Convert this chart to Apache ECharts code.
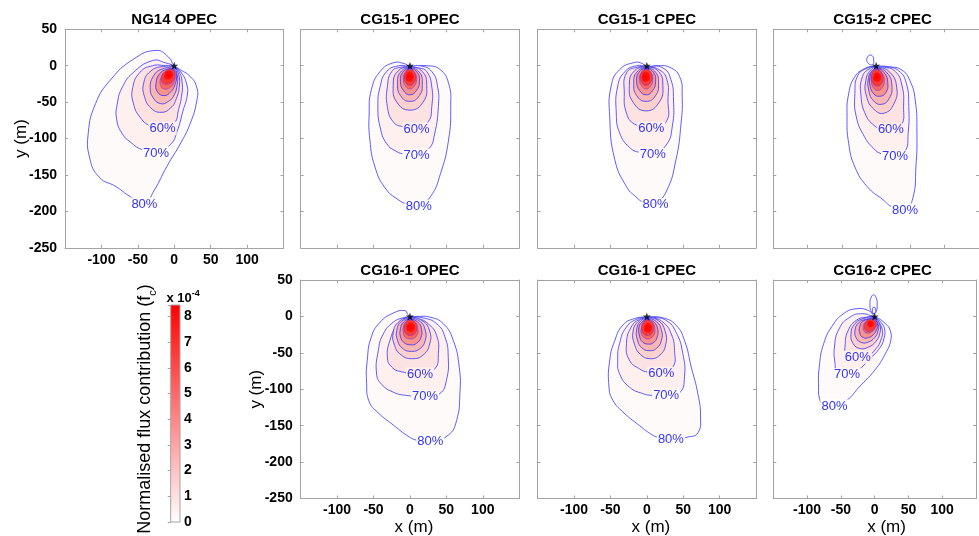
<!DOCTYPE html>
<html>
<head>
<meta charset="utf-8">
<title>Flux footprint climatologies</title>
<script src="https://cdn.jsdelivr.net/npm/echarts@6/dist/echarts.min.js"></script>
<style>
  html, body { margin: 0; padding: 0; background: #ffffff; }
  #chart { width: 979px; height: 536px; }
</style>
</head>
<body>
<div id="chart"></div>
<script>
// ---------------------------------------------------------------------------
// Data: footprint contour rings per site, in metres relative to the tower.
// Each ring is [level, [x1, y1, x2, y2, ...]]; level 0 = 80 % ring,
// 1 = 70 %, 2 = 60 %, 3..7 = inner rings (50 % .. 10 %), 8 = peak ring.
// ---------------------------------------------------------------------------
const xTickLabels = [-100, -50, 0, 50, 100];
const yTickLabels = [50, 0, -50, -100, -150, -200, -250];
const cbarTickLabels = [0, 1, 2, 3, 4, 5, 6, 7, 8];
const cbarRange = [0, 8.45];           // colour scale, x 10^-4
const contourLabelText = ['60%', '70%', '80%'];
const towerXY = [0, 0];

const ng14Opec = [
  [0, [0,0, 6,-4, 22,-15, 31,-30, 31,-48, 22,-79, 9,-106, -10,-138, -28,-172, -41,-189, -60,-180, -80,-166, -103,-153, -116,-127, -118,-92, -108,-52, -88,-20, -56,9, -25,21, -8,12]],
  [1, [0,-1, 10,-10, 17,-25, 18,-40, 12,-62, 4,-90, -5,-108, -25,-120, -45,-115, -60,-105, -71,-94, -79,-74, -78,-51, -71,-29, -57,-10, -30,7, -12,4]],
  [2, [0,-2, 7,-9, 11,-25, 10,-42, 6,-60, 0,-79, -16,-86, -32,-83, -46,-72, -56,-52, -57,-30, -47,-9, -30,0, -12,0]],
  [3, [0,-3, 6,-12, 7,-28, 3,-45, -5,-58, -18,-64, -32,-58, -41,-42, -42,-24, -33,-8, -15,-1]],
  [4, [-1,-4, 4,-12, 4,-26, 0,-40, -8,-49, -19,-52, -29,-44, -33,-30, -29,-15, -18,-5]],
  [5, [-1,-5, 3,-13, 1,-26, -5,-36, -14,-41, -23,-36, -25,-24, -20,-11, -10,-5]],
  [6, [-2,-6, 1,-13, 0,-22, -6,-30, -14,-32, -19,-26, -18,-16, -12,-8]],
  [7, [-3,-5, 1,-12, -1,-20, -8,-25, -16,-23, -17,-15, -11,-7]],
  [8, [-6,-7, -2,-10, -3,-16, -8,-19, -13,-17, -13,-11, -9,-7]]
];
const ng14OpecLabels = [[-16,-86], [-25,-120], [-41,-190]];

const cg151Opec = [
  [0, [0,-1, 23,0, 41,-5, 53,-24, 56,-56, 53,-102, 42,-148, 28,-180, 12,-191, -3,-190, -16,-184, -34,-168, -48,-139, -55,-102, -56,-65, -53,-33, -41,-8, -23,4, -8,3]],
  [1, [0,-1, 14,0, 30,-8, 38,-29, 39,-56, 34,-93, 26,-114, 9,-122, -8,-121, -18,-118, -32,-107, -41,-84, -44,-56, -41,-29, -32,-8, -15,0]],
  [2, [0,-2, 12,-3, 23,-8, 30,-29, 30,-56, 25,-77, 9,-86, -9,-84, -23,-77, -31,-56, -31,-29, -25,-8, -12,-2]],
  [3, [0,-2, 17,-8, 23,-27, 18,-50, 0,-61, -18,-50, -23,-27, -17,-8]],
  [4, [0,-3, 13,-9, 17,-24, 13,-41, 0,-49, -13,-41, -17,-24, -13,-9]],
  [5, [0,-4, 10,-9, 13,-22, 9,-34, 0,-40, -9,-34, -13,-22, -10,-9]],
  [6, [0,-5, 7,-10, 9,-20, 6,-28, 0,-32, -6,-28, -9,-20, -7,-10]],
  [7, [0,-5, 6,-9, 8,-17, 5,-24, 0,-27, -5,-24, -8,-17, -6,-9]],
  [8, [-1,-8, 4,-11, 5,-15, 4,-20, -1,-22, -5,-20, -6,-15, -5,-11]]
];
const cg151OpecLabels = [[9,-87], [9,-123], [12,-193]];

const cg151Cpec = [
  [0, [0,-1, 13,0, 31,-2, 45,-15, 48.5,-42, 47,-79, 40,-129, 27,-172, 12,-188, -3,-188, -15,-180, -28,-166, -44,-129, -51,-70, -49,-28, -37.5,-5.5, -17,4.5, -6,3]],
  [1, [0,-1, 22,-3, 33,-19, 36.6,-47, 35,-83, 26.5,-109, 8,-120, -10,-119, -24,-112, -37.5,-92, -42,-65, -40,-28, -30,-8, -14,0]],
  [2, [0,-2, 17,-5.5, 27.5,-19, 29,-47, 26.5,-77, 6,-85, -17,-80, -28,-65, -31,-37.5, -28,-10, -13,-2]],
  [3, [-1,-2, 16,-8, 22,-27, 17,-50, -1,-62, -19,-50, -24,-27, -18,-8]],
  [4, [-1,-3, 12,-9, 16,-24, 12,-41, -1,-49, -14,-41, -18,-24, -14,-9]],
  [5, [-1,-4, 9,-9, 12,-22, 8,-34, -1,-40, -10,-34, -14,-22, -11,-9]],
  [6, [-1,-5, 6,-10, 8,-20, 5,-28, -1,-32, -7,-28, -10,-20, -8,-10]],
  [7, [-1,-5, 5,-9, 7,-17, 4,-24, -1,-27, -6,-24, -9,-17, -7,-9]],
  [8, [-2,-8, 3,-11, 4,-15.5, 3,-20, -2,-22, -6,-20, -7,-15.5, -6,-11]]
];
const cg151CpecLabels = [[6,-86], [8,-122], [12,-191]];

const cg152Cpec = [
  [0, [0,-1, 19,-1.4, 37.5,-6, 49,-20, 57,-47, 59.5,-93, 58,-139, 53.5,-182, 42,-197, 24,-194, 10,-184, -13,-166, -31,-139, -40,-107, -42.5,-70, -40,-38, -31,-15, -17,-4, -6,-1]],
  [0, [-4,2, -3.7,8, -5,13, -9,14.6, -12.5,12, -13.7,7, -11,3, -7,1]],
  [1, [0,-1, 15,-1.4, 33,-7, 44,-24, 47.6,-56, 46.7,-93, 42,-118, 27.5,-124, 8,-121, -3.7,-113.5, -17,-97.5, -29,-70, -31,-38, -26.5,-13, -12,-3]],
  [2, [0,-2, 12,-2, 28,-8, 37.5,-26.5, 40,-56, 36.6,-82, 21.5,-88, 5.5,-86, -3.7,-81.5, -15,-68, -22,-42.5, -20,-15, -8,-3]],
  [3, [1,-2, 20,-9, 30,-30, 26,-52, 12,-65, -3,-60, -14,-42, -15,-20, -8,-6]],
  [4, [1,-3, 16,-10, 23,-27, 19,-45, 8,-53, -4,-48, -11,-33, -11,-16, -6,-7]],
  [5, [1,-4, 12,-10, 17,-24, 14,-37, 5,-42, -4,-38, -9,-27, -9,-15, -5,-7]],
  [6, [1,-5, 9,-11, 12,-21, 9,-30, 3,-34, -4,-30, -7,-21, -6,-12]],
  [7, [1,-5, 7,-9, 10,-18, 7,-25, 2,-28, -4,-25, -7,-17, -5,-9]],
  [8, [1,-9, 6,-12, 7,-16, 5,-21, 0,-22, -4,-20, -4,-14, -2,-10]]
];
const cg152CpecLabels = [[21.5,-88], [27.5,-125], [42,-198]];

const cg161Opec = [
  [0, [0,0, 9,0, 27.5,-1, 45.8,-10, 59.5,-33, 67.7,-70, 68.6,-106, 64,-143, 52.6,-163, 28,-172, 9,-170, -4.6,-163, -23,-149, -44,-132, -56,-117, -59.5,-92, -58.6,-60, -53,-28, -41,-8, -23,4.6, -7,8, -3,3]],
  [1, [0,-1, 18,-2, 36.6,-10, 48,-28, 52.6,-56, 50,-88, 41,-106, 20.6,-110, -4.6,-108.5, -23,-104, -39,-93, -45.8,-79, -43.5,-47, -36.6,-24, -23,-8, -10,-2]],
  [2, [0,-2, 11.4,-3, 25,-10, 36.6,-26, 39,-51, 34,-72, 13.7,-79, -11.4,-76, -25,-69.6, -31,-56, -27.5,-33, -18,-12, -8,-3]],
  [3, [0,-2, 17,-6, 27,-20, 27,-38, 18,-53, 3,-58, -12,-53, -21,-40, -23,-22, -15,-7]],
  [4, [0,-3, 14,-7, 21,-19, 21,-33, 14,-44, 2,-48, -10,-44, -17,-33, -18,-19, -12,-7]],
  [5, [0,-4, 11,-8, 16,-18, 15,-29, 9,-37, 1,-39, -8,-36, -13,-28, -13,-17, -9,-8]],
  [6, [0,-5, 8,-9, 11,-17, 10,-25, 5,-30, 0,-31, -6,-29, -9,-23, -9,-15, -6,-8]],
  [7, [0,-5, 7,-8, 9,-16, 7,-23, 1,-26, -5,-24, -8,-17, -6,-9]],
  [8, [1,-8, 6,-11, 7,-15, 5,-20, 0,-21, -4,-19, -5,-14, -3,-10]]
];
const cg161OpecLabels = [[13.7,-79], [20.6,-110], [28,-172]];

const cg161Cpec = [
  [0, [0,-1, 22,-2, 40,-12, 51.7,-33, 61,-69.6, 70,-106, 73.7,-138, 70,-160, 56,-165.7, 33,-169, 17,-166.6, 8,-163, -10,-150, -33,-131, -46.7,-115, -52,-97, -51,-60, -44,-33, -33,-12, -17,-3]],
  [1, [0,-1, 8,-1, 26.5,-5.5, 40,-21.5, 49.4,-51, 51.7,-83, 45,-105, 26.5,-108.5, 8,-108.5, -5.5,-106, -24,-97, -37.5,-78.7, -40,-60, -37.5,-37.5, -28,-14.6, -12,-3]],
  [2, [0,-2, 8,-2, 22,-7.8, 33.4,-23.8, 38,-46.7, 35.7,-69.6, 19.7,-78, 1.4,-76.4, -10,-72, -24,-60, -28,-37.5, -21.5,-14.6, -10,-4]],
  [3, [0,-2, 16,-6, 25,-20, 26,-38, 18,-53, 4,-58, -9,-52, -17,-38, -19,-21, -12,-7]],
  [4, [0,-3, 13,-7, 20,-19, 20,-33, 13,-44, 3,-47, -7,-43, -13,-32, -14,-18, -9,-7]],
  [5, [0,-4, 10,-8, 15,-18, 14,-29, 9,-36, 2,-38, -6,-35, -10,-27, -11,-16, -7,-8]],
  [6, [0,-5, 8,-9, 11,-17, 10,-25, 5,-30, 1,-31, -5,-28, -8,-22, -7,-14, -5,-8]],
  [7, [0,-5, 7,-8, 9,-16, 7,-23, 2,-26, -4,-24, -7,-17, -5,-9]],
  [8, [1,-9, 6,-12, 7,-16, 5,-21, 1,-22, -3,-20, -4,-15, -2,-11]]
];
const cg161CpecLabels = [[19.7,-78], [26.5,-108.5], [33,-169]];

const cg162Cpec = [
  [0, [0,0, 4.6,-2, 16,-10, 23,-19, 23.8,-33, 16,-51, 0,-74, -23,-97, -41,-115, -59.5,-123, -75.5,-122, -81.5,-113, -83,-97, -82,-69.6, -75.5,-37.5, -62,-12, -46,3.7, -27.5,10.5, -9,8]],
  [0, [-1.6,3.7, 2.5,7, 3.7,16.7, 2.5,25, -1.6,29.7, -5.7,25, -6.9,16.7, -5.7,8]],
  [1, [-0.9,3.7, 1.1,5.3, 1.4,8.3, 1.1,11.2, -0.9,12.8, -2.9,11.2, -3.2,8.3, -2.9,5.3]],
  [1, [0,-1, 2.3,-1.8, 9,-7.8, 14.6,-17, 13.7,-30.7, 7,-44, -7,-58, -25,-74, -41,-80, -55,-78.7, -58.6,-65, -59.5,-42, -52.6,-17, -36.6,-1, -18,3.7]],
  [2, [0,-1, 4.6,-5.5, 11.4,-19, 9,-33, 2.3,-44, -9,-53.5, -25,-56, -41,-53.5, -43.5,-37.5, -39,-19, -27.5,-5.5, -12,-1]],
  [3, [0,-2, 7,-10, 8,-22, 2,-34, -9,-42, -22,-44, -32,-37, -35,-24, -30,-11, -17,-3]],
  [4, [-1,-3, 5,-10, 5,-20, 0,-29, -9,-35, -19,-36, -27,-30, -29,-19, -24,-9, -13,-4]],
  [5, [-1,-4, 4,-10, 3,-18, -2,-25, -9,-29, -17,-29, -22,-23, -22,-14, -18,-7, -9,-4]],
  [6, [-2,-5, 2,-10, 1,-16, -4,-21, -10,-23, -15,-21, -17,-15, -15,-9, -9,-5]],
  [7, [-3,-4, 2,-9, 1,-15, -5,-20, -12,-20, -15,-14, -12,-7, -7,-4]],
  [8, [-5,-6, -1,-9, -2,-13, -6,-15, -10,-13, -11,-9, -8,-6]]
];
const cg162CpecLabels = [[-25,-56], [-41,-80], [-59.5,-123]];

// ---------------------------------------------------------------------------
// Layout and styling
// ---------------------------------------------------------------------------
const FONT = '"Liberation Sans", Arial, Helvetica, sans-serif';
const BOX = '#a3a3a3';
const RING_STROKE = 'rgba(45, 45, 255, 0.85)';
const RING_STROKE_INNER = 'rgba(70, 50, 255, 0.5)';
const LABEL_BLUE = '#3434ff';
const X_RANGE = [-150, 150];
const Y_RANGE = [-250, 50];
const colLeft = [65, 300.7, 537.6, 773.3];
const rowTop = [29.3, 280];
const SIDE = 218.5;
const CORE_LEVEL = 8;
// fill of each ring, from the 80 % ring inwards (white -> red colour scale)
const bandFill = ['#fffafa', '#fdf0ef', '#fce3e1', '#fbd0cd', '#f9b6b2', '#f8928c', '#fa655d', '#ff3a32'];
const labelBg = ['#fdf0ef', '#fffafa', 'rgba(255,255,255,0.9)'];
const STAR = 'path://M0,-10L2.35,-3.24L9.51,-3.09L3.8,1.24L5.88,8.09L0,4.1L-5.88,8.09L-3.8,1.24L-9.51,-3.09L-2.35,-3.24Z';

const panels = [
  { title: 'NG14 OPEC',   rings: ng14Opec,  labels: ng14OpecLabels,  col: 0, row: 0, xLab: true,  yLab: true },
  { title: 'CG15-1 OPEC', rings: cg151Opec, labels: cg151OpecLabels, col: 1, row: 0, xLab: false, yLab: false },
  { title: 'CG15-1 CPEC', rings: cg151Cpec, labels: cg151CpecLabels, col: 2, row: 0, xLab: false, yLab: false },
  { title: 'CG15-2 CPEC', rings: cg152Cpec, labels: cg152CpecLabels, col: 3, row: 0, xLab: false, yLab: false },
  { title: 'CG16-1 OPEC', rings: cg161Opec, labels: cg161OpecLabels, col: 1, row: 1, xLab: true,  yLab: true },
  { title: 'CG16-1 CPEC', rings: cg161Cpec, labels: cg161CpecLabels, col: 2, row: 1, xLab: true,  yLab: false },
  { title: 'CG16-2 CPEC', rings: cg162Cpec, labels: cg162CpecLabels, col: 3, row: 1, xLab: true,  yLab: false }
];

function boxAxis(isX, gridIndex, position, showLabels) {
  const ticks = isX ? xTickLabels : yTickLabels;
  const range = isX ? X_RANGE : Y_RANGE;
  return {
    type: 'value', gridIndex, position,
    min: range[0], max: range[1], interval: 50,
    axisLine: { show: true, onZero: false, lineStyle: { color: BOX, width: 1 } },
    axisTick: { show: true, inside: true, length: 3, lineStyle: { color: BOX, width: 1 } },
    axisLabel: {
      show: showLabels, margin: isX ? 5 : 8, color: '#000', fontSize: 14,
      fontWeight: 'bold', fontFamily: FONT, hideOverlap: false,
      formatter: v => (ticks.indexOf(v) >= 0 ? String(v) : '')
    },
    splitLine: { show: false }
  };
}

function ringRenderer(rings) {
  return function (params, api) {
    const ring = rings[params.dataIndex];
    const lvl = ring[0], xy = ring[1];
    const pts = [];
    for (let k = 0; k < xy.length; k += 2) pts.push(api.coord([xy[k], xy[k + 1]]));
    const isCore = lvl === CORE_LEVEL;
    const fill = isCore
      ? new echarts.graphic.RadialGradient(0.5, 0.5, 0.7, [
          { offset: 0, color: '#ff0000' }, { offset: 1, color: '#ff1a12' }])
      : bandFill[lvl];
    return {
      type: 'polygon',
      shape: { points: pts, smooth: 0.5 },
      style: {
        fill: fill,
        stroke: isCore ? null : (lvl >= 6 ? RING_STROKE_INNER : RING_STROKE),
        lineWidth: 0.9
      }
    };
  };
}

function labelRenderer(labels) {
  return function (params, api) {
    const pos = labels[params.dataIndex];
    const p = api.coord([pos[0], pos[1]]);
    return {
      type: 'text', x: p[0], y: p[1],
      style: {
        text: contourLabelText[params.dataIndex], fill: LABEL_BLUE,
        fontSize: 13, fontFamily: FONT, align: 'center', verticalAlign: 'middle',
        backgroundColor: labelBg[params.dataIndex], padding: [0, 1]
      }
    };
  };
}

const grid = [], xAxis = [], yAxis = [], series = [], graphic = [];

panels.forEach((pn, i) => {
  const left = colLeft[pn.col], top = rowTop[pn.row];
  grid.push({ left: left, top: top, width: SIDE, height: SIDE });
  xAxis.push(boxAxis(true, i, 'bottom', pn.xLab));
  xAxis.push(boxAxis(true, i, 'top', false));
  yAxis.push(boxAxis(false, i, 'left', pn.yLab));
  yAxis.push(boxAxis(false, i, 'right', false));

  series.push({
    type: 'custom', name: pn.title + ' rings', xAxisIndex: 2 * i, yAxisIndex: 2 * i,
    clip: true, silent: true, z: 2,
    data: pn.rings.map(r => [r[1][0], r[1][1]]),
    renderItem: ringRenderer(pn.rings)
  });
  series.push({
    type: 'custom', name: pn.title + ' labels', xAxisIndex: 2 * i, yAxisIndex: 2 * i,
    clip: true, silent: true, z: 3,
    data: pn.labels.map(l => [l[0], l[1]]),
    renderItem: labelRenderer(pn.labels)
  });
  series.push({
    type: 'scatter', name: pn.title + ' tower', xAxisIndex: 2 * i, yAxisIndex: 2 * i,
    silent: true, z: 5, symbol: STAR, symbolSize: 8,
    itemStyle: { color: '#000' }, data: [towerXY]
  });

  graphic.push({
    type: 'text', x: left + SIDE / 2, y: top - 9,
    style: { text: pn.title, fill: '#000', fontSize: 15, fontWeight: 'bold',
             fontFamily: FONT, align: 'center', verticalAlign: 'middle' }
  });
  if (pn.yLab) {
    graphic.push({
      type: 'text', x: left - 44, y: top + SIDE / 2, rotation: Math.PI / 2,
      style: { text: 'y (m)', fill: '#000', fontSize: 17, fontFamily: FONT,
               align: 'center', verticalAlign: 'middle' }
    });
  }
  if (pn.row === 1) {
    graphic.push({
      type: 'text', x: left + SIDE / 2 + 4, y: top + SIDE + 29,
      style: { text: 'x (m)', fill: '#000', fontSize: 17, fontFamily: FONT,
               align: 'center', verticalAlign: 'middle' }
    });
  }
});

// colour bar
const cbIndex = panels.length;
grid.push({ left: 170.7, top: 305, width: 9.3, height: 217 });
xAxis.push({ type: 'value', gridIndex: cbIndex, min: 0, max: 1, show: false });
yAxis.push({
  type: 'value', gridIndex: cbIndex, position: 'right',
  min: cbarRange[0], max: cbarRange[1], interval: 1,
  axisLine: { show: false },
  axisTick: { show: true, inside: true, length: 3, lineStyle: { color: BOX } },
  axisLabel: {
    margin: 4, color: '#000', fontSize: 14, fontWeight: 'bold', fontFamily: FONT,
    formatter: v => (cbarTickLabels.indexOf(v) >= 0 ? String(v) : '')
  },
  splitLine: { show: false }
});
series.push({
  type: 'custom', name: 'colour bar', xAxisIndex: 2 * cbIndex, yAxisIndex: 2 * cbIndex,
  silent: true, z: 1, data: [[0, cbarRange[0]]],
  renderItem: function (params, api) {
    const p0 = api.coord([0, cbarRange[0]]);
    const p1 = api.coord([1, cbarRange[1]]);
    return {
      type: 'rect',
      shape: { x: p0[0], y: p1[1], width: p1[0] - p0[0], height: p0[1] - p1[1] },
      style: {
        fill: new echarts.graphic.LinearGradient(0, 0, 0, 1, [
          { offset: 0, color: '#ff0000' }, { offset: 1, color: '#ffffff' }]),
        stroke: BOX, lineWidth: 1
      }
    };
  }
});

graphic.push({
  type: 'text', x: 166.5, y: 297,
  style: {
    text: '{a|x 10}{b|-4}', align: 'left', verticalAlign: 'middle',
    rich: {
      a: { fontSize: 13, fontWeight: 'bold', fontFamily: FONT, fill: '#000', lineHeight: 16, verticalAlign: 'bottom' },
      b: { fontSize: 9, fontWeight: 'bold', fontFamily: FONT, fill: '#000', lineHeight: 9, verticalAlign: 'top' }
    }
  }
});
graphic.push({
  type: 'text', x: 147, y: 409, rotation: Math.PI / 2,
  style: {
    text: '{n|Normalised flux contribution (f}{s|c}{n|)}', align: 'center', verticalAlign: 'middle',
    rich: {
      n: { fontSize: 18, fontFamily: FONT, fill: '#000', lineHeight: 22, verticalAlign: 'top' },
      s: { fontSize: 11, fontFamily: FONT, fill: '#000', lineHeight: 22, verticalAlign: 'bottom' }
    }
  }
});

const chart = echarts.init(document.getElementById('chart'), null, { renderer: 'canvas' });
chart.setOption({
  animation: false,
  backgroundColor: '#ffffff',
  grid: grid,
  xAxis: xAxis,
  yAxis: yAxis,
  series: series,
  graphic: graphic
});
</script>
</body>
</html>
